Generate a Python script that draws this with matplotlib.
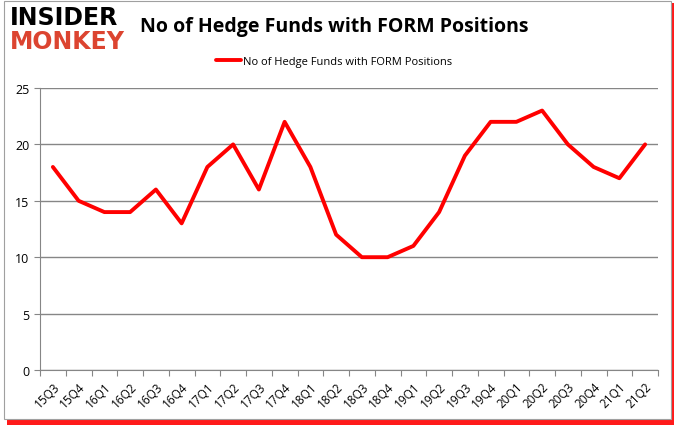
import matplotlib.pyplot as plt
from matplotlib.patches import Rectangle

quarters = ['15Q3', '15Q4', '16Q1', '16Q2', '16Q3', '16Q4', '17Q1', '17Q2',
            '17Q3', '17Q4', '18Q1', '18Q2', '18Q3', '18Q4', '19Q1', '19Q2',
            '19Q3', '19Q4', '20Q1', '20Q2', '20Q3', '20Q4', '21Q1', '21Q2']
funds = [18, 15, 14, 14, 16, 13, 18, 20, 16, 22, 18, 12, 10, 10, 11, 14,
         19, 22, 22, 23, 20, 18, 17, 20]
y_ticks = [0, 5, 10, 15, 20, 25]

fig = plt.figure(figsize=(6.78, 4.31), dpi=100)
plt.rcParams['font.family'] = ['Open Sans', 'DejaVu Sans']

# frame with red shadow
fig.patches.append(Rectangle((7 / 678, 1 - 426 / 431), 667 / 678, 422 / 431,
                             transform=fig.transFigure, facecolor='#ff1a1a',
                             edgecolor='none', zorder=-2))
fig.patches.append(Rectangle((4 / 678, 1 - 420 / 431), 667 / 678, 418 / 431,
                             transform=fig.transFigure, facecolor='white',
                             edgecolor='#a0a0a0', linewidth=0.8, zorder=-1))

ax = fig.add_axes([40 / 678, 1 - 371 / 431, 618 / 678, 282 / 431])
ax.set_facecolor('none')
x = list(range(len(quarters)))
ax.plot(x, funds, color='#ff0000', linewidth=2.8,
        label='No of Hedge Funds with FORM Positions', solid_capstyle='round')
ax.set_xlim(-0.5, len(quarters) - 0.5)
ax.set_ylim(0, 25)
ax.set_yticks(y_ticks)
ax.set_xticks([i - 0.5 for i in range(len(quarters) + 1)])
ax.set_xticklabels([])
ax.set_xticks(x, minor=True)
ax.set_xticklabels(quarters, minor=True, rotation=45, fontsize=8.5,
                   ha='right', va='top', rotation_mode='anchor')
ax.tick_params(axis='x', which='minor', length=0, pad=7)
ax.tick_params(axis='x', which='major', length=4, color='#868686')
ax.tick_params(axis='y', length=4, color='#868686', labelsize=9)
ax.grid(axis='y', color='#868686', linewidth=1)
ax.set_axisbelow(True)
for s in ['top', 'right']:
    ax.spines[s].set_visible(False)
for s in ['left', 'bottom']:
    ax.spines[s].set_color('#868686')

ax.legend(loc='lower center', bbox_to_anchor=(0.476, 1.04), frameon=False,
          fontsize=8, handlelength=2.2, handletextpad=0.2)

fig.text(140 / 678, 1 - 27 / 431, 'No of Hedge Funds with FORM Positions',
         fontsize=14, fontweight='bold', va='center', ha='left')
fig.text(10 / 678, 1 - 18 / 431, 'INSIDER', fontsize=17, fontweight='heavy',
         family='DejaVu Sans', va='center', ha='left', color='black')
fig.text(10 / 678, 1 - 42 / 431, 'MONKEY', fontsize=17, fontweight='heavy',
         family='DejaVu Sans', va='center', ha='left', color='#dc4430')

fig.savefig('out.png', dpi=100)
